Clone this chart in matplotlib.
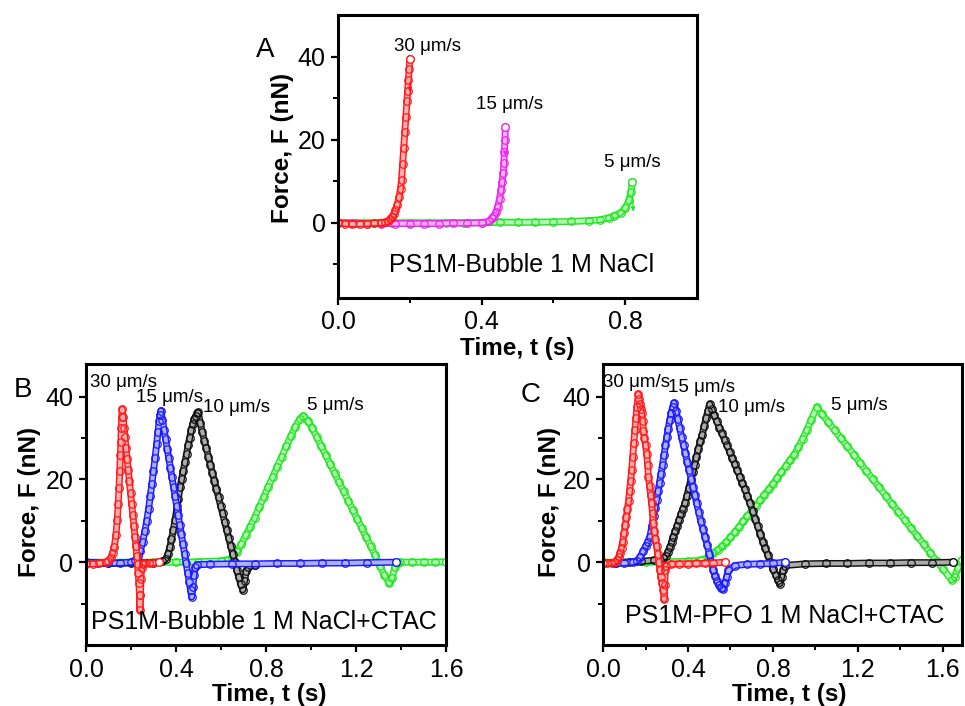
import numpy as np
import matplotlib
matplotlib.use("Agg")
import matplotlib.pyplot as plt
from matplotlib.colors import to_rgb
from matplotlib.ticker import FixedLocator, FormatStrFormatter

plt.rcParams["font.family"] = ["Liberation Sans", "DejaVu Sans"]

RED = "#ff1a1a"
MAGENTA = "#ee22ee"
GREEN = "#22e622"
BLUE = "#1a1aff"
BLACK = "#111111"

# ---- panel A: PS1M-Bubble 1 M NaCl ----
a_red_t = [0.00, 0.02, 0.04, 0.06, 0.08, 0.10, 0.12, 0.13, 0.14, 0.145, 0.150, 0.155, 0.160,
           0.165, 0.170, 0.174, 0.177, 0.180, 0.183, 0.186, 0.189, 0.192, 0.194, 0.196, 0.198, 0.200]
a_red_f = [0.0, -0.2, -0.3, -0.3, -0.2, -0.1, 0.0, 0.1, 0.3, 0.8, 1.4, 2.0, 3.0,
           4.3, 6.2, 8.2, 10.3, 14.2, 18.0, 21.8, 25.5, 29.3, 31.8, 34.4, 37.0, 39.5]
a_mag_t = [0.00, 0.04, 0.08, 0.12, 0.16, 0.20, 0.24, 0.28, 0.32, 0.36, 0.40, 0.42, 0.43, 0.435,
           0.440, 0.445, 0.450, 0.454, 0.457, 0.460, 0.462, 0.4635, 0.465, 0.466]
a_mag_f = [0.0, -0.1, -0.2, -0.2, -0.2, -0.2, -0.2, -0.2, -0.1, -0.1, 0.0, 0.3, 1.2, 1.7,
           2.5, 3.9, 5.8, 7.8, 9.8, 12.0, 14.5, 17.0, 20.0, 23.0]
a_grn_t = [0.00, 0.05, 0.10, 0.15, 0.20, 0.25, 0.30, 0.35, 0.40, 0.45, 0.50, 0.55, 0.60, 0.65,
           0.70, 0.73, 0.756, 0.77, 0.788, 0.80, 0.811, 0.816, 0.820]
a_grn_f = [0.0, 0.0, 0.0, 0.0, 0.0, 0.0, 0.0, 0.0, 0.0, 0.1, 0.1, 0.1, 0.2, 0.3,
           0.5, 0.7, 1.2, 1.7, 2.4, 3.5, 5.5, 7.5, 9.9]

# ---- panel B: PS1M-Bubble 1 M NaCl+CTAC ----
b_red_t = [0.00, 0.03, 0.06, 0.09, 0.100, 0.110, 0.118, 0.126, 0.133, 0.139,
           0.143, 0.147, 0.150, 0.153, 0.155, 0.157, 0.159, 0.161,
           0.165, 0.169, 0.173, 0.178, 0.183, 0.188, 0.193, 0.198, 0.203, 0.208,
           0.213, 0.218, 0.222, 0.226, 0.229, 0.232, 0.235, 0.238, 0.240,
           0.242, 0.244, 0.247, 0.252, 0.26, 0.28, 0.30, 0.326]
b_red_f = [-0.4, -0.4, -0.3, 0.0, 0.4, 1.0, 2.2, 3.7, 6.5, 10.1,
           14.0, 18.0, 22.0, 26.0, 29.0, 32.4, 35.0, 37.0,
           35.0, 32.5, 30.2, 27.5, 25.0, 22.2, 19.5, 16.8, 14.1, 11.5,
           8.8, 6.1, 3.8, 1.5, -0.5, -2.5, -5.0, -8.0, -11.6,
           -8.0, -4.0, -1.5, -0.5, -0.3, -0.3, -0.2, 0.0]
b_blue_t = [0.00, 0.05, 0.10, 0.15, 0.20,
            0.220, 0.232, 0.242, 0.252, 0.262, 0.270, 0.278, 0.286, 0.293, 0.300, 0.307, 0.314,
            0.320, 0.325, 0.329, 0.333,
            0.340, 0.347, 0.354, 0.361, 0.368, 0.375, 0.382, 0.389, 0.396, 0.403,
            0.410, 0.417, 0.424, 0.431, 0.438, 0.445, 0.452, 0.459, 0.465, 0.470,
            0.475, 0.480, 0.486, 0.495,
            0.55, 0.65, 0.75, 0.85, 0.95, 1.05, 1.15, 1.25, 1.376]
b_blue_f = [0.0, -0.1, -0.2, -0.2, 0.0,
            0.5, 1.5, 2.8, 5.0, 7.5, 10.0, 12.8, 16.0, 19.0, 22.0, 25.2, 28.5,
            31.5, 34.0, 35.6, 36.6,
            34.3, 32.0, 29.7, 27.4, 25.1, 22.8, 20.5, 18.2, 15.9, 13.6,
            11.3, 9.0, 6.7, 4.4, 2.1, -0.2, -2.5, -4.8, -6.8, -8.4,
            -6.0, -3.0, -1.2, -0.6,
            -0.5, -0.4, -0.4, -0.3, -0.3, -0.2, -0.2, -0.1, 0.0]
b_black_t = [0.00, 0.10, 0.20, 0.30, 0.34,
             0.355, 0.365, 0.373, 0.380, 0.388, 0.396, 0.403, 0.410, 0.418, 0.425, 0.432,
             0.440, 0.447, 0.454, 0.461, 0.468, 0.475, 0.482, 0.489, 0.495, 0.499,
             0.508, 0.517, 0.526, 0.535, 0.544, 0.553, 0.562, 0.571, 0.580, 0.589, 0.598,
             0.607, 0.616, 0.625, 0.634, 0.643, 0.652, 0.661, 0.670, 0.679, 0.688, 0.697,
             0.705, 0.712, 0.720, 0.75]
b_black_f = [-0.3, -0.3, -0.2, -0.1, 0.2,
             0.8, 2.0, 3.7, 5.5, 7.8, 10.1, 12.7, 15.3, 18.1, 20.1, 22.0,
             24.2, 26.2, 28.2, 30.1, 32.0, 33.5, 34.6, 35.4, 36.0, 36.2,
             33.6, 31.5, 29.4, 27.5, 25.5, 23.5, 21.5, 19.6, 17.6, 15.7, 13.7,
             11.8, 9.8, 7.9, 5.9, 4.0, 2.0, 0.1, -1.9, -3.6, -5.3, -6.7,
             -4.5, -2.2, -1.2, -0.6]
b_grn_t = [0.00, 0.10, 0.20, 0.30, 0.40, 0.50, 0.60, 0.63,
           0.650, 0.670, 0.690, 0.710, 0.730, 0.750, 0.770, 0.790, 0.810, 0.830, 0.850,
           0.870, 0.890, 0.910, 0.930, 0.950, 0.966,
           0.985, 1.005, 1.025, 1.045, 1.065, 1.085, 1.105, 1.125, 1.145, 1.165, 1.185,
           1.205, 1.225, 1.245, 1.265, 1.285, 1.305, 1.325, 1.348,
           1.360, 1.373, 1.385, 1.396, 1.45, 1.50, 1.55, 1.60]
b_grn_f = [0.0, 0.0, 0.0, 0.0, 0.0, 0.1, 0.3, 0.6,
           1.0, 2.4, 4.3, 6.5, 8.6, 10.8, 13.3, 15.7, 18.2, 20.6, 23.1,
           25.5, 28.0, 30.4, 32.7, 34.6, 35.4,
           34.2, 32.5, 30.3, 28.1, 25.9, 23.7, 21.5, 19.3, 17.1, 14.9, 12.7,
           10.5, 8.3, 6.1, 3.9, 1.7, -0.8, -3.0, -5.1,
           -3.8, -1.1, -0.2, 0.0, 0.0, 0.0, 0.0, 0.1]

# ---- panel C: PS1M-PFO 1 M NaCl+CTAC ----
c_red_t = [0.00, 0.02, 0.04, 0.055,
           0.065, 0.073, 0.080, 0.087, 0.093, 0.099, 0.105, 0.110, 0.115, 0.120,
           0.125, 0.130, 0.135, 0.140, 0.145, 0.150, 0.155, 0.160, 0.166,
           0.170, 0.174, 0.178, 0.182, 0.186, 0.190, 0.195, 0.200, 0.206, 0.210,
           0.214, 0.219, 0.224, 0.229, 0.233, 0.237, 0.242, 0.247, 0.253, 0.258,
           0.263, 0.268, 0.273, 0.278, 0.284, 0.288,
           0.290, 0.293, 0.297,
           0.32, 0.36, 0.40, 0.44, 0.48, 0.52, 0.574]
c_red_f = [-0.3, -0.3, -0.2, 0.0,
           0.5, 1.2, 2.2, 3.5, 5.0, 7.0, 9.0, 11.0, 12.8, 14.7,
           17.2, 19.7, 22.2, 25.5, 28.8, 32.0, 34.8, 37.5, 40.6,
           39.5, 38.2, 37.0, 36.0, 34.0, 31.8, 30.0, 28.3, 26.2, 23.4,
           20.6, 18.5, 16.3, 14.2, 11.8, 9.4, 7.5, 5.7, 3.8, 1.9,
           0.0, -1.9, -3.5, -5.1, -6.7, -9.0,
           -5.5, -2.0, -0.8,
           -0.5, -0.4, -0.4, -0.3, -0.3, -0.2, 0.0]
c_blue_t = [0.00, 0.05, 0.10, 0.14, 0.16,
            0.175, 0.188, 0.200, 0.210, 0.221, 0.230, 0.238, 0.245, 0.252, 0.259, 0.266,
            0.273, 0.280, 0.287, 0.294, 0.300, 0.307, 0.314, 0.321, 0.328, 0.334,
            0.343, 0.352, 0.361, 0.370, 0.379, 0.388, 0.397, 0.406, 0.415, 0.424, 0.433,
            0.441, 0.450, 0.460, 0.470, 0.480, 0.490, 0.500, 0.510, 0.519, 0.528, 0.537,
            0.546, 0.556, 0.566,
            0.574, 0.582, 0.590,
            0.62, 0.68, 0.74, 0.80, 0.856]
c_blue_f = [-0.3, -0.3, -0.2, 0.0, 0.4,
            1.3, 2.6, 3.8, 4.9, 6.2, 8.7, 11.2, 13.1, 15.0, 17.1, 19.2,
            21.3, 23.5, 25.8, 28.2, 30.2, 32.3, 34.3, 36.0, 37.5, 38.5,
            36.6, 34.5, 32.4, 30.2, 28.2, 26.3, 24.1, 22.2, 20.1, 18.1, 16.2,
            14.2, 12.2, 10.0, 8.1, 6.2, 4.2, 2.1, 0.0, -1.9, -3.4, -4.6,
            -5.5, -6.2, -6.5,
            -5.0, -3.5, -2.0,
            -0.8, -0.5, -0.4, -0.3, 0.0]
c_black_t = [0.00, 0.06, 0.12, 0.18, 0.24, 0.28,
             0.295, 0.305, 0.315, 0.323, 0.331, 0.340, 0.349, 0.358, 0.367, 0.376, 0.386,
             0.395, 0.404, 0.413, 0.422, 0.431, 0.440, 0.449, 0.458, 0.467, 0.476, 0.485,
             0.494, 0.502,
             0.512, 0.524, 0.536, 0.548, 0.560, 0.572, 0.584, 0.596, 0.608, 0.620,
             0.632, 0.644, 0.656, 0.668, 0.680, 0.692, 0.704, 0.716, 0.728, 0.740,
             0.752, 0.764, 0.776, 0.788, 0.800, 0.812, 0.823, 0.833,
             0.841, 0.848, 0.856,
             0.95, 1.05, 1.15, 1.25, 1.35, 1.45, 1.55, 1.646]
c_black_f = [-0.2, -0.2, 0.0, 0.2, 0.5, 0.9,
             1.5, 2.5, 3.6, 4.8, 6.2, 7.5, 8.8, 10.2, 11.6, 12.9, 14.2,
             16.1, 17.9, 19.8, 21.7, 23.6, 25.5, 27.4, 29.2, 30.8, 32.8, 34.8,
             36.6, 38.2,
             37.0, 35.5, 34.0, 32.5, 31.1, 29.6, 28.2, 26.7, 25.2, 23.7,
             22.2, 20.7, 19.1, 17.6, 16.0, 14.2, 12.4, 10.5, 8.7, 6.9,
             5.0, 3.4, 1.7, 0.0, -1.6, -3.0, -4.2, -5.2,
             -3.5, -2.0, -0.8,
             -0.4, -0.3, -0.3, -0.2, -0.2, -0.1, -0.1, 0.0]
c_grn_t = [0.00, 0.10, 0.20, 0.30, 0.40, 0.46, 0.50,
           0.52, 0.54, 0.56, 0.58, 0.60, 0.62, 0.64, 0.66, 0.68, 0.70, 0.72, 0.74,
           0.76, 0.78, 0.80, 0.82, 0.84, 0.86, 0.88, 0.90, 0.92, 0.94, 0.96, 0.98, 1.006,
           1.03, 1.06, 1.09, 1.12, 1.15, 1.18, 1.21, 1.24, 1.27, 1.30, 1.33,
           1.36, 1.39, 1.42, 1.45, 1.48, 1.51, 1.54, 1.57, 1.60, 1.641,
           1.655, 1.670, 1.688]
c_grn_f = [0.0, 0.0, 0.0, 0.1, 0.2, 0.5, 1.2,
           2.2, 3.0, 3.8, 4.8, 6.0, 7.2, 8.5, 9.9, 11.2, 12.4, 13.7, 15.0,
           16.3, 17.6, 18.9, 20.4, 21.8, 23.2, 24.6, 26.0, 27.8, 29.8, 32.0, 34.4, 37.4,
           35.8, 33.9, 31.9, 29.9, 28.0, 26.0, 24.0, 22.0, 20.1, 18.1, 16.1,
           14.1, 12.2, 10.2, 8.2, 6.3, 4.3, 2.3, 0.3, -1.6, -4.3,
           -3.5, -1.5, 0.5]

FS = 18        # tick labels and condition text
LFS = 17.5     # bold axis titles
SFS = 13.5     # speed labels


def lighten(c, k):
    rgb = np.array(to_rgb(c))
    return tuple(rgb + (1 - rgb) * k)


def draw_trace(ax, t, f, color):
    # dense open-circle traces: a hollow band plus the circles themselves
    kw = dict(solid_capstyle="round", solid_joinstyle="round")
    ax.plot(t, f, color=color, lw=5.0, **kw)
    ax.plot(t, f, color=lighten(color, 0.65), lw=2.9, **kw)
    ax.plot(t, f, ls="none", marker="o", ms=5.4, mfc="none", mec=color, mew=0.9)
    ax.plot(t[-1], f[-1], ls="none", marker="o", ms=5.4, mfc="white", mec=color, mew=0.9)


def style_axes(ax, xlim, ylim, xmajor, xminor):
    ax.set_xlim(*xlim)
    ax.set_ylim(*ylim)
    for s in ax.spines.values():
        s.set_linewidth(2.2)
    ax.xaxis.set_major_locator(FixedLocator(xmajor))
    ax.xaxis.set_minor_locator(FixedLocator(xminor))
    ax.yaxis.set_major_locator(FixedLocator([0, 20, 40]))
    ax.yaxis.set_minor_locator(FixedLocator([-10, 10, 30]))
    ax.xaxis.set_major_formatter(FormatStrFormatter("%.1f"))
    ax.tick_params(which="major", direction="out", length=5, width=1.6, labelsize=FS, pad=4)
    ax.tick_params(which="minor", direction="out", length=3.5, width=1.4)
    ax.set_xlabel("Time, t (s)", fontsize=LFS, fontweight="bold")
    ax.set_ylabel("Force, F (nN)", fontsize=LFS, fontweight="bold")


fig = plt.figure(figsize=(9.65, 7.06), dpi=100)

# panel A
axA = fig.add_axes([0.3503, 0.5786, 0.372, 0.4001])
draw_trace(axA, a_grn_t, a_grn_f, GREEN)
draw_trace(axA, a_mag_t, a_mag_f, MAGENTA)
draw_trace(axA, a_red_t, a_red_f, RED)
style_axes(axA, (0, 1.0), (-18, 50), [0.0, 0.4, 0.8], [0.2, 0.6])
axA.yaxis.set_label_coords(-0.123, 0.53)
axA.xaxis.set_label_coords(0.498, -0.14)
for (x0, y0, y1, c) in [(0.200, 34.5, 30.8, RED), (0.466, 17.6, 15.4, MAGENTA), (0.822, 6.2, 2.0, GREEN)]:
    axA.annotate("", xy=(x0, y1), xytext=(x0, y0),
                 arrowprops=dict(arrowstyle="-|>", color=c, lw=0.9, mutation_scale=6))
axA.text(0.25, 42.4, "30 μm/s", fontsize=SFS, ha="center", va="center")
axA.text(0.478, 28.5, "15 μm/s", fontsize=SFS, ha="center", va="center")
axA.text(0.819, 14.5, "5 μm/s", fontsize=SFS, ha="center", va="center")
axA.text(0.51, -10.2, "PS1M-Bubble 1 M NaCl", fontsize=FS, ha="center", va="center")
fig.text(265 / 965, 1 - 50 / 706, "A", fontsize=20, ha="center", va="center")

# panel B
axB = fig.add_axes([0.0891, 0.0864, 0.3731, 0.3987])
draw_trace(axB, b_grn_t, b_grn_f, GREEN)
draw_trace(axB, b_black_t, b_black_f, BLACK)
draw_trace(axB, b_blue_t, b_blue_f, BLUE)
draw_trace(axB, b_red_t, b_red_f, RED)
style_axes(axB, (0, 1.6), (-20, 48), [0.0, 0.4, 0.8, 1.2, 1.6], [0.2, 0.6, 1.0, 1.4])
axB.yaxis.set_label_coords(-0.125, 0.51)
axB.xaxis.set_label_coords(0.508, -0.135)
axB.text(0.166, 43.4, "30 μm/s", fontsize=SFS, ha="center", va="center")
axB.text(0.37, 39.8, "15 μm/s", fontsize=SFS, ha="center", va="center")
axB.text(0.667, 37.4, "10 μm/s", fontsize=SFS, ha="center", va="center")
axB.text(1.107, 37.8, "5 μm/s", fontsize=SFS, ha="center", va="center")
axB.text(0.792, -14.4, "PS1M-Bubble 1 M NaCl+CTAC", fontsize=FS, ha="center", va="center")
fig.text(22.5 / 965, 1 - 390 / 706, "B", fontsize=20, ha="center", va="center")

# panel C
axC = fig.add_axes([0.6249, 0.0864, 0.372, 0.3987])
draw_trace(axC, c_grn_t, c_grn_f, GREEN)
draw_trace(axC, c_black_t, c_black_f, BLACK)
draw_trace(axC, c_blue_t, c_blue_f, BLUE)
draw_trace(axC, c_red_t, c_red_f, RED)
style_axes(axC, (0, 1.69), (-20, 48), [0.0, 0.4, 0.8, 1.2, 1.6], [0.2, 0.6, 1.0, 1.4])
axC.yaxis.set_label_coords(-0.118, 0.51)
axC.xaxis.set_label_coords(0.518, -0.135)
axC.text(0.158, 43.4, "30 μm/s", fontsize=SFS, ha="center", va="center")
axC.text(0.464, 42.2, "15 μm/s", fontsize=SFS, ha="center", va="center")
axC.text(0.70, 37.4, "10 μm/s", fontsize=SFS, ha="center", va="center")
axC.text(1.205, 37.8, "5 μm/s", fontsize=SFS, ha="center", va="center")
axC.text(0.856, -13.1, "PS1M-PFO 1 M NaCl+CTAC", fontsize=FS, ha="center", va="center")
fig.text(531 / 965, 1 - 395 / 706, "C", fontsize=20, ha="center", va="center")

fig.savefig("out.png", dpi=100)
